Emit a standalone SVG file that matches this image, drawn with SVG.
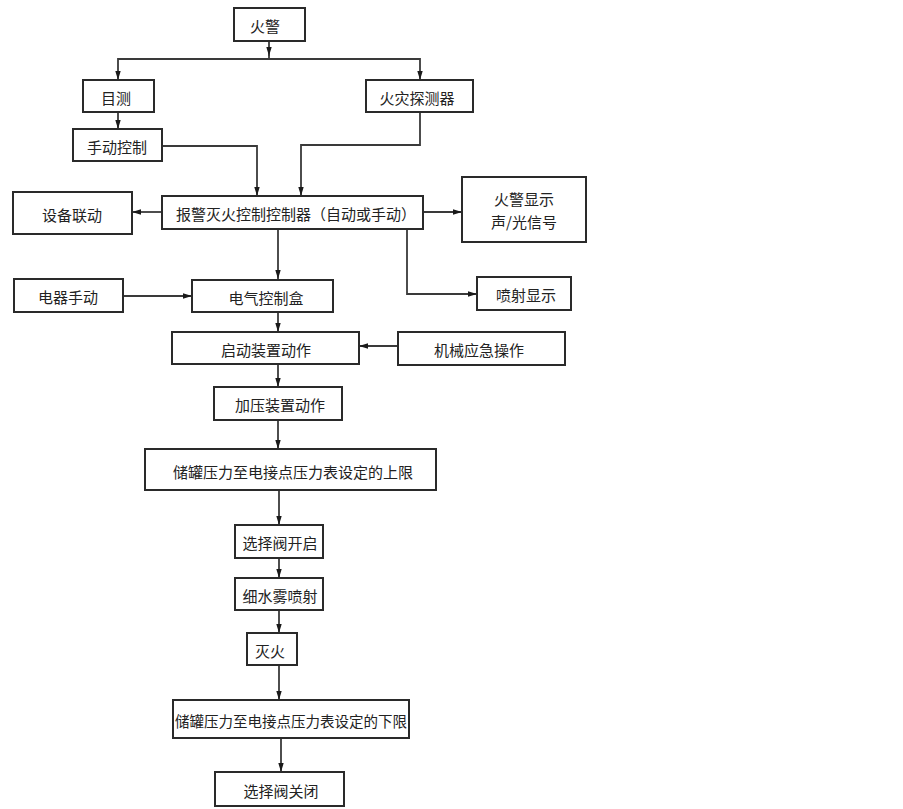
<svg xmlns="http://www.w3.org/2000/svg" width="903" height="809" viewBox="0 0 903 809">
<style>
.box{fill:#fff;stroke:#2a2a2a;stroke-width:2}
.lbl{font-family:"Noto Sans CJK SC","Noto Sans CJK JP",sans-serif;font-size:15px;fill:#222;text-anchor:middle;dominant-baseline:central}
.con{fill:none;stroke:#3a3a3a;stroke-width:1.8}
</style>
<defs>
<marker id="ah" markerUnits="userSpaceOnUse" markerWidth="9" markerHeight="7" refX="9" refY="3.5" orient="auto">
<path d="M0,0.8 L9,3.5 L0,6.2 Z" fill="#1a1a1a"/>
</marker>
</defs>
<rect width="903" height="809" fill="#fff"/>
<g id="connectors">
<path class="con" d="M269,41 V56" marker-end="url(#ah)"/>
<path class="con" d="M269,55 V59"/>
<path class="con" d="M269,59 H118 V80" marker-end="url(#ah)"/>
<path class="con" d="M269,59 H420 V80" marker-end="url(#ah)"/>
<path class="con" d="M118,112 V129" marker-end="url(#ah)"/>
<path class="con" d="M162,146 H257 V196" marker-end="url(#ah)"/>
<path class="con" d="M420,112 V145 H301 V196" marker-end="url(#ah)"/>
<path class="con" d="M162,212 H132" marker-end="url(#ah)"/>
<path class="con" d="M423,212 H462" marker-end="url(#ah)"/>
<path class="con" d="M407,229 V294 H477" marker-end="url(#ah)"/>
<path class="con" d="M278,229 V279" marker-end="url(#ah)"/>
<path class="con" d="M123,296 H192" marker-end="url(#ah)"/>
<path class="con" d="M278,312 V332" marker-end="url(#ah)"/>
<path class="con" d="M398,346 H359" marker-end="url(#ah)"/>
<path class="con" d="M278,364 V387" marker-end="url(#ah)"/>
<path class="con" d="M278,420 V449" marker-end="url(#ah)"/>
<path class="con" d="M279,490 V525" marker-end="url(#ah)"/>
<path class="con" d="M279,558 V578" marker-end="url(#ah)"/>
<path class="con" d="M279,610 V633" marker-end="url(#ah)"/>
<path class="con" d="M279,665 V700" marker-end="url(#ah)"/>
<path class="con" d="M281,738 V772" marker-end="url(#ah)"/>
</g>
<g id="n-huojing"><rect class="box" x="234" y="8" width="71" height="33"/><text class="lbl" x="265" y="25">火警</text></g>
<g id="n-mumce"><rect class="box" x="83" y="80" width="71" height="32"/><text class="lbl" x="116" y="97">目测</text></g>
<g id="n-tanceqi"><rect class="box" x="366" y="80" width="107" height="32"/><text class="lbl" x="417" y="97">火灾探测器</text></g>
<g id="n-shoudong"><rect class="box" x="73" y="129" width="89" height="32"/><text class="lbl" x="117" y="146">手动控制</text></g>
<g id="n-shebei"><rect class="box" x="13" y="192" width="119" height="42"/><text class="lbl" x="72" y="214">设备联动</text></g>
<g id="n-controller"><rect class="box" x="162" y="196" width="261" height="33"/><text class="lbl" x="296" y="213">报警灭火控制控制器（自动或手动）</text></g>
<g id="n-xianshi"><rect class="box" x="462" y="177" width="124" height="65"/><text class="lbl" x="524" y="198.5">火警显示</text><text class="lbl" x="524" y="221">声/光信号</text></g>
<g id="n-dianqi-sd"><rect class="box" x="14" y="279" width="109" height="33"/><text class="lbl" x="68" y="296">电器手动</text></g>
<g id="n-dianqihe"><rect class="box" x="192" y="280" width="141" height="32"/><text class="lbl" x="266" y="297">电气控制盒</text></g>
<g id="n-penshe"><rect class="box" x="477" y="277" width="94" height="33"/><text class="lbl" x="526" y="294">喷射显示</text></g>
<g id="n-qidong"><rect class="box" x="172" y="332" width="187" height="32"/><text class="lbl" x="266" y="349">启动装置动作</text></g>
<g id="n-jixie"><rect class="box" x="398" y="332" width="167" height="33"/><text class="lbl" x="479" y="349">机械应急操作</text></g>
<g id="n-jiaya"><rect class="box" x="214" y="387" width="128" height="33"/><text class="lbl" x="280" y="404">加压装置动作</text></g>
<g id="n-shangxian"><rect class="box" x="145" y="449" width="291" height="41"/><text class="lbl" x="293" y="471">储罐压力至电接点压力表设定的上限</text></g>
<g id="n-kaiqi"><rect class="box" x="235" y="525" width="88" height="33"/><text class="lbl" x="280" y="542">选择阀开启</text></g>
<g id="n-xishuiwu"><rect class="box" x="235" y="578" width="88" height="32"/><text class="lbl" x="280" y="595">细水雾喷射</text></g>
<g id="n-miehuo"><rect class="box" x="247" y="633" width="50" height="32"/><text class="lbl" x="270" y="650">灭火</text></g>
<g id="n-xiaxian"><rect class="box" x="173" y="700" width="236" height="38"/><text class="lbl" x="291" y="720" style="font-size:14.5px">储罐压力至电接点压力表设定的下限</text></g>
<g id="n-guanbi"><rect class="box" x="215" y="772" width="129" height="34"/><text class="lbl" x="281" y="790">选择阀关闭</text></g>
</svg>
